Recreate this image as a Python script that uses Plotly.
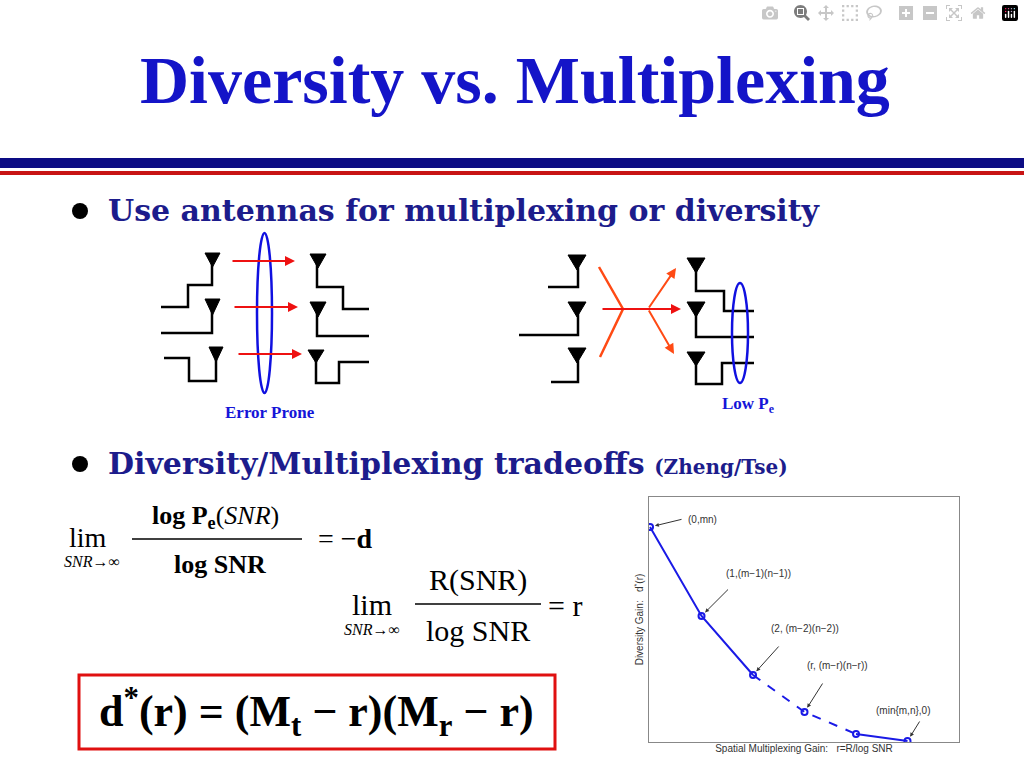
import plotly.graph_objects as go

# inset tradeoff curve (r, d*(r))
gain_r = [0, 1, 2, 3, 4, 5]
gain_d = [21.5, 12.6, 6.7, 3.0, 0.8, 0.1]
point_labels = ["(0,mn)", "(1,(m\u22121)(n\u22121))", "(2, (m\u22122)(n\u22122))",
                "(r, (m\u2212r)(n\u2212r))", None, "(min{m,n},0)"]

SERIF = "Liberation Serif"
WIDE_SERIF = "DejaVu Serif"
NAVY = "#1c1c8c"
fig = go.Figure()

# inset curve: solid, dashed, solid
fig.add_trace(go.Scatter(x=gain_r[:3], y=gain_d[:3], mode="lines", xaxis="x2", yaxis="y2",
                         line=dict(color="#1a1ae6", width=2)))
fig.add_trace(go.Scatter(x=gain_r[2:5], y=gain_d[2:5], mode="lines", xaxis="x2", yaxis="y2",
                         line=dict(color="#1a1ae6", width=2, dash="dash")))
fig.add_trace(go.Scatter(x=gain_r[4:], y=gain_d[4:], mode="lines", xaxis="x2", yaxis="y2",
                         line=dict(color="#1a1ae6", width=2)))
fig.add_trace(go.Scatter(x=gain_r, y=gain_d, mode="markers", xaxis="x2", yaxis="y2",
                         marker=dict(symbol="circle-open", size=6, color="#1a1ae6",
                                     line=dict(width=2))))

shapes = []


def line(x0, y0, x1, y1, color="black", width=2.5):
    shapes.append(dict(type="line", x0=x0, y0=y0, x1=x1, y1=y1, xref="x", yref="y",
                       line=dict(color=color, width=width)))


def path(pts, color="black", width=2.5):
    d = "M " + " L ".join(f"{x},{y}" for x, y in pts)
    shapes.append(dict(type="path", path=d, xref="x", yref="y",
                       line=dict(color=color, width=width)))


def antenna(x0, x1, y0, y1):
    shapes.append(dict(type="path", path=f"M {x0},{y0} L {x1},{y0} L {(x0+x1)/2},{y1} Z",
                       xref="x", yref="y", fillcolor="black", line=dict(color="black", width=1)))


def ellipse(x0, x1, y0, y1):
    shapes.append(dict(type="circle", x0=x0, x1=x1, y0=y0, y1=y1, xref="x", yref="y",
                       line=dict(color="#1010e0", width=2.5)))


def bullet(cx, cy):
    shapes.append(dict(type="circle", x0=cx - 8, x1=cx + 8, y0=cy - 8, y1=cy + 8,
                       xref="x", yref="y", fillcolor="black", line=dict(width=0)))


annotations = []


def arrow(x0, y0, x1, y1, color="#ee1111"):
    annotations.append(dict(x=x1, y=y1, ax=x0, ay=y0, xref="x", yref="y", axref="x", ayref="y",
                            text="", showarrow=True, arrowhead=2, arrowsize=1, arrowwidth=2,
                            arrowcolor=color))


def text(x, y, s, size, color="black", family=SERIF, xanchor="center"):
    annotations.append(dict(x=x, y=y, xref="x", yref="y", text=s, showarrow=False,
                            xanchor=xanchor, yanchor="middle",
                            font=dict(family=family, size=size, color=color)))


# header bars
shapes.append(dict(type="rect", x0=0, x1=1024, y0=158, y1=168, xref="x", yref="y",
                   fillcolor="#0c0c84", line=dict(width=0)))
shapes.append(dict(type="rect", x0=0, x1=1024, y0=171, y1=175, xref="x", yref="y",
                   fillcolor="#c81414", line=dict(width=0)))

# left antenna group (multiplexing)
antenna(205, 220, 253, 267); path([(212, 253), (212, 285), (188, 285), (188, 307), (161, 307)])
antenna(205, 220, 299, 315); path([(212, 299), (212, 333), (161, 333)])
antenna(209, 223, 347, 362); path([(216, 347), (216, 381), (189, 381), (189, 358), (164, 358)])
antenna(310, 326, 254, 268); path([(317, 254), (317, 287), (343, 287), (343, 309), (369, 309)])
antenna(310, 326, 302, 317); path([(317, 302), (317, 336), (369, 336)])
antenna(308, 324, 350, 363); path([(316, 350), (316, 383), (339, 383), (339, 362), (369, 362)])
arrow(231, 261, 295, 261); arrow(233, 307, 298, 307); arrow(237, 354, 302, 354)
ellipse(257, 272, 233, 393)

# right antenna group (diversity)
antenna(568, 586, 255, 270); path([(578, 255), (578, 287), (548, 287)])
antenna(568, 586, 302, 317); path([(578, 302), (578, 335), (519, 335)])
antenna(568, 586, 348, 363); path([(578, 348), (578, 382), (551, 382)])
path([(599, 267), (623, 309), (600, 357)], color="#ff4a14")
arrow(601, 309, 681, 309, color="#ee1111")
arrow(648, 309, 676, 268, color="#ff4a14"); arrow(648, 309, 674, 354, color="#ff4a14")
antenna(687, 705, 258, 273); path([(696, 258), (696, 291), (724, 291), (724, 311), (754, 311)])
antenna(687, 705, 302, 317); path([(696, 302), (696, 337), (754, 337)])
antenna(687, 705, 352, 366); path([(696, 352), (696, 384), (722, 384), (722, 363), (754, 363)])
ellipse(732, 748, 283, 383)

text(270, 412, "<b>Error Prone</b>", 17, color="#1515d8")
text(748, 405, "<b>Low P<sub>e</sub></b>", 17, color="#1515d8")

# title and bullets
text(515, 80, "<b>Diversity vs. Multiplexing</b>", 68, color="#1414c8")
bullet(80, 211)
text(106, 210, "<b>Use antennas for multiplexing or diversity</b>", 30, color=NAVY,
     family=WIDE_SERIF, xanchor="left")
bullet(80, 464)
text(106, 463, "<b>Diversity/Multiplexing tradeoffs</b> <b><span style='font-size:20px'>(Zheng/Tse)</span></b>",
     30, color=NAVY, family=WIDE_SERIF, xanchor="left")

# equation 1
text(88, 537, "lim", 28, xanchor="center")
text(92, 561, "<i>SNR</i>\u2192\u221e", 16)
text(215, 517, "<b>log P<sub>e</sub></b>(<i>SNR</i>)", 26)
line(132, 539, 302, 539, width=1.5)
text(220, 564, "<b>log SNR</b>", 26)
text(345, 538, "= \u2212<b>d</b>", 28)

# equation 2
text(372, 604, "lim", 30)
text(372, 629, "<i>SNR</i>\u2192\u221e", 16)
text(478, 580, "R(SNR)", 30)
line(415, 604, 541, 604, width=1.5)
text(478, 630, "log SNR", 30)
text(565, 605, "= r", 30)

# boxed formula
shapes.append(dict(type="rect", x0=79, x1=555, y0=675, y1=749, xref="x", yref="y",
                   line=dict(color="#e01010", width=3)))
text(316, 712, "<b>d<sup>*</sup>(r) = (M<sub>t</sub> \u2212 r)(M<sub>r</sub> \u2212 r)</b>", 44)

# inset labels with arrows pointing at curve points
offsets = [(33, -8), (28, -28), (27, -30), (19, -30), None, (13, -21)]
text_pos = [(702, 519), (758, 573), (805, 628), (837, 665), None, (903, 710)]
for i, lab in enumerate(point_labels):
    if lab is None:
        continue
    ax, ay = offsets[i]
    annotations.append(dict(x=gain_r[i], y=gain_d[i], xref="x2", yref="y2", ax=ax, ay=ay,
                            text="", showarrow=True, arrowhead=2, arrowsize=0.8, arrowwidth=1,
                            arrowcolor="#333333", standoff=5))
    text(text_pos[i][0], text_pos[i][1], lab, 10, color="#333333", family="Arial")

fig.update_layout(
    width=1024, height=768, margin=dict(l=0, r=0, t=0, b=0),
    paper_bgcolor="white", plot_bgcolor="rgba(0,0,0,0)", showlegend=False,
    xaxis=dict(range=[0, 1024], domain=[0, 1], visible=False, fixedrange=True),
    yaxis=dict(range=[768, 0], domain=[0, 1], visible=False, fixedrange=True),
    xaxis2=dict(range=[-0.02, 6.0], domain=[649 / 1024, 959 / 1024], anchor="y2",
                showticklabels=False, ticks="", showgrid=False, zeroline=False,
                showline=True, mirror=True, linecolor="#888888",
                title=dict(text="Spatial Multiplexing Gain:   r=R/log SNR", standoff=2,
                           font=dict(family="Arial", size=10, color="#333333"))),
    yaxis2=dict(range=[0, 24.5], domain=[1 - 742 / 768, 1 - 497 / 768], anchor="x2",
                showticklabels=False, ticks="", showgrid=False, zeroline=False,
                showline=True, mirror=True, linecolor="#888888",
                title=dict(text="Diversity Gain:   d<sup>*</sup>(r)", standoff=2,
                           font=dict(family="Arial", size=10, color="#333333"))),
    shapes=shapes, annotations=annotations,
)

fig.write_html("out.html", post_script="document.body.style.margin='0px';")
